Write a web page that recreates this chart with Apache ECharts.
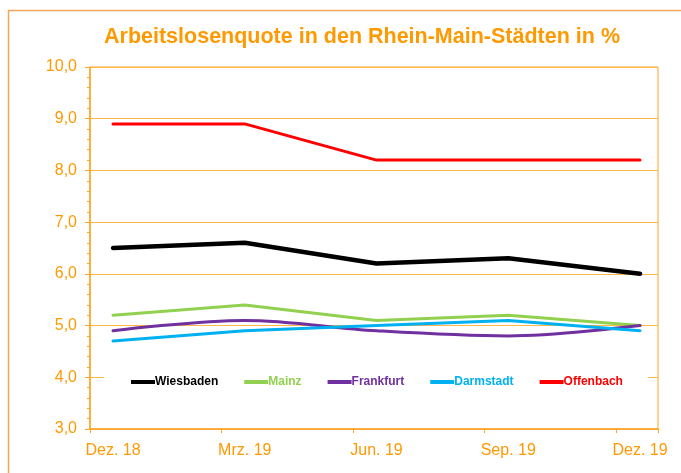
<!DOCTYPE html>
<html>
<head>
<meta charset="utf-8">
<script src="https://cdn.jsdelivr.net/npm/echarts@6/dist/echarts.min.js"></script>
<style>html,body{margin:0;padding:0;background:#fff;}#c{width:681px;height:473px;}</style>
</head>
<body>
<div id="c"></div>
<script>
const categories = ['Dez. 18', 'Mrz. 19', 'Jun. 19', 'Sep. 19', 'Dez. 19'];
const wiesbaden = [6.5, 6.6, 6.2, 6.3, 6.0];
const mainz = [5.2, 5.4, 5.1, 5.2, 5.0];
const frankfurt = [4.9, 5.1, 4.9, 4.8, 5.0];
const darmstadt = [4.7, 4.9, 5.0, 5.1, 4.9];
const offenbach = [8.9, 8.9, 8.2, 8.2, 8.2];
const yTicks = [3, 4, 5, 6, 7, 8, 9, 10];

const FONT = 'Liberation Sans, Arial, sans-serif';
const ORANGE = '#FF9900';
const AXIS = '#FFA526';

const seriesDefs = [
  { name: 'Wiesbaden', data: wiesbaden, color: '#000000', width: 4.5, smooth: false },
  { name: 'Mainz', data: mainz, color: '#92D050', width: 3, smooth: false },
  { name: 'Frankfurt', data: frankfurt, color: '#7030A0', width: 3, smooth: 0.35 },
  { name: 'Darmstadt', data: darmstadt, color: '#00B0F0', width: 3, smooth: false },
  { name: 'Offenbach', data: offenbach, color: '#FF0000', width: 3, smooth: false }
];

const chart = echarts.init(document.getElementById('c'), null, { renderer: 'canvas' });
chart.setOption({
  animation: false,
  backgroundColor: '#fff',
  graphic: [{
    type: 'rect', z: -10, silent: true,
    shape: { x: 8.5, y: 10.5, width: 720, height: 520 },
    style: { fill: '#fff', stroke: '#F5A55A', lineWidth: 1.5 }
  }],
  title: {
    text: 'Arbeitslosenquote in den Rhein-Main-Städten in %',
    left: 357, top: 21, textAlign: 'center',
    textStyle: { color: ORANGE, fontFamily: FONT, fontWeight: 'bold', fontSize: 21.5 }
  },
  legend: {
    left: 104, top: 370,
    padding: [6, 25, 6, 27],
    backgroundColor: '#fff',
    icon: 'rect', itemWidth: 24, itemHeight: 4, itemGap: 26,
    data: seriesDefs.map(s => ({ name: s.name, textStyle: { color: s.color } })),
    textStyle: { fontFamily: FONT, fontWeight: 'bold', fontSize: 12, padding: [0, 0, 0, -5] }
  },
  grid: [
    { left: 113, right: 41, top: 67, bottom: 44 },
    { left: 90, right: 23, top: 67, bottom: 44, show: true, borderColor: AXIS, borderWidth: 1, backgroundColor: 'transparent' }
  ],
  xAxis: [
    {
      gridIndex: 0, type: 'category', data: categories, boundaryGap: false,
      axisLine: { show: false }, axisTick: { show: false }, splitLine: { show: false },
      axisLabel: { color: ORANGE, fontFamily: FONT, fontSize: 16, margin: 14, interval: 0 }
    },
    {
      gridIndex: 1, type: 'value', min: 0, max: 4.32, interval: 1,
      axisLine: { show: true, lineStyle: { color: AXIS, width: 1.5 } },
      axisTick: { show: true, length: 4, lineStyle: { color: AXIS } },
      axisLabel: { show: false }, splitLine: { show: false }
    }
  ],
  yAxis: [
    { gridIndex: 0, type: 'value', min: 3, max: 10, show: false, splitLine: { show: false } },
    {
      gridIndex: 1, type: 'value', min: yTicks[0], max: yTicks[yTicks.length - 1], interval: 1,
      axisLine: { show: true, lineStyle: { color: AXIS, width: 1.5 } },
      axisTick: { show: true, length: 5, lineStyle: { color: AXIS } },
      minorTick: { show: true, splitNumber: 5, length: 3, lineStyle: { color: AXIS } },
      axisLabel: { color: ORANGE, fontFamily: FONT, fontSize: 16, margin: 13,
        formatter: v => v.toFixed(1).replace('.', ',') },
      splitLine: { show: true, lineStyle: { color: '#FFB848', width: 1 } }
    }
  ],
  series: seriesDefs.map(s => ({
    name: s.name, type: 'line', xAxisIndex: 0, yAxisIndex: 0,
    data: s.data, smooth: s.smooth, showSymbol: false, symbol: 'none',
    color: s.color,
    lineStyle: { color: s.color, width: s.width, cap: 'round', join: 'round' }
  }))
});
</script>
</body>
</html>
